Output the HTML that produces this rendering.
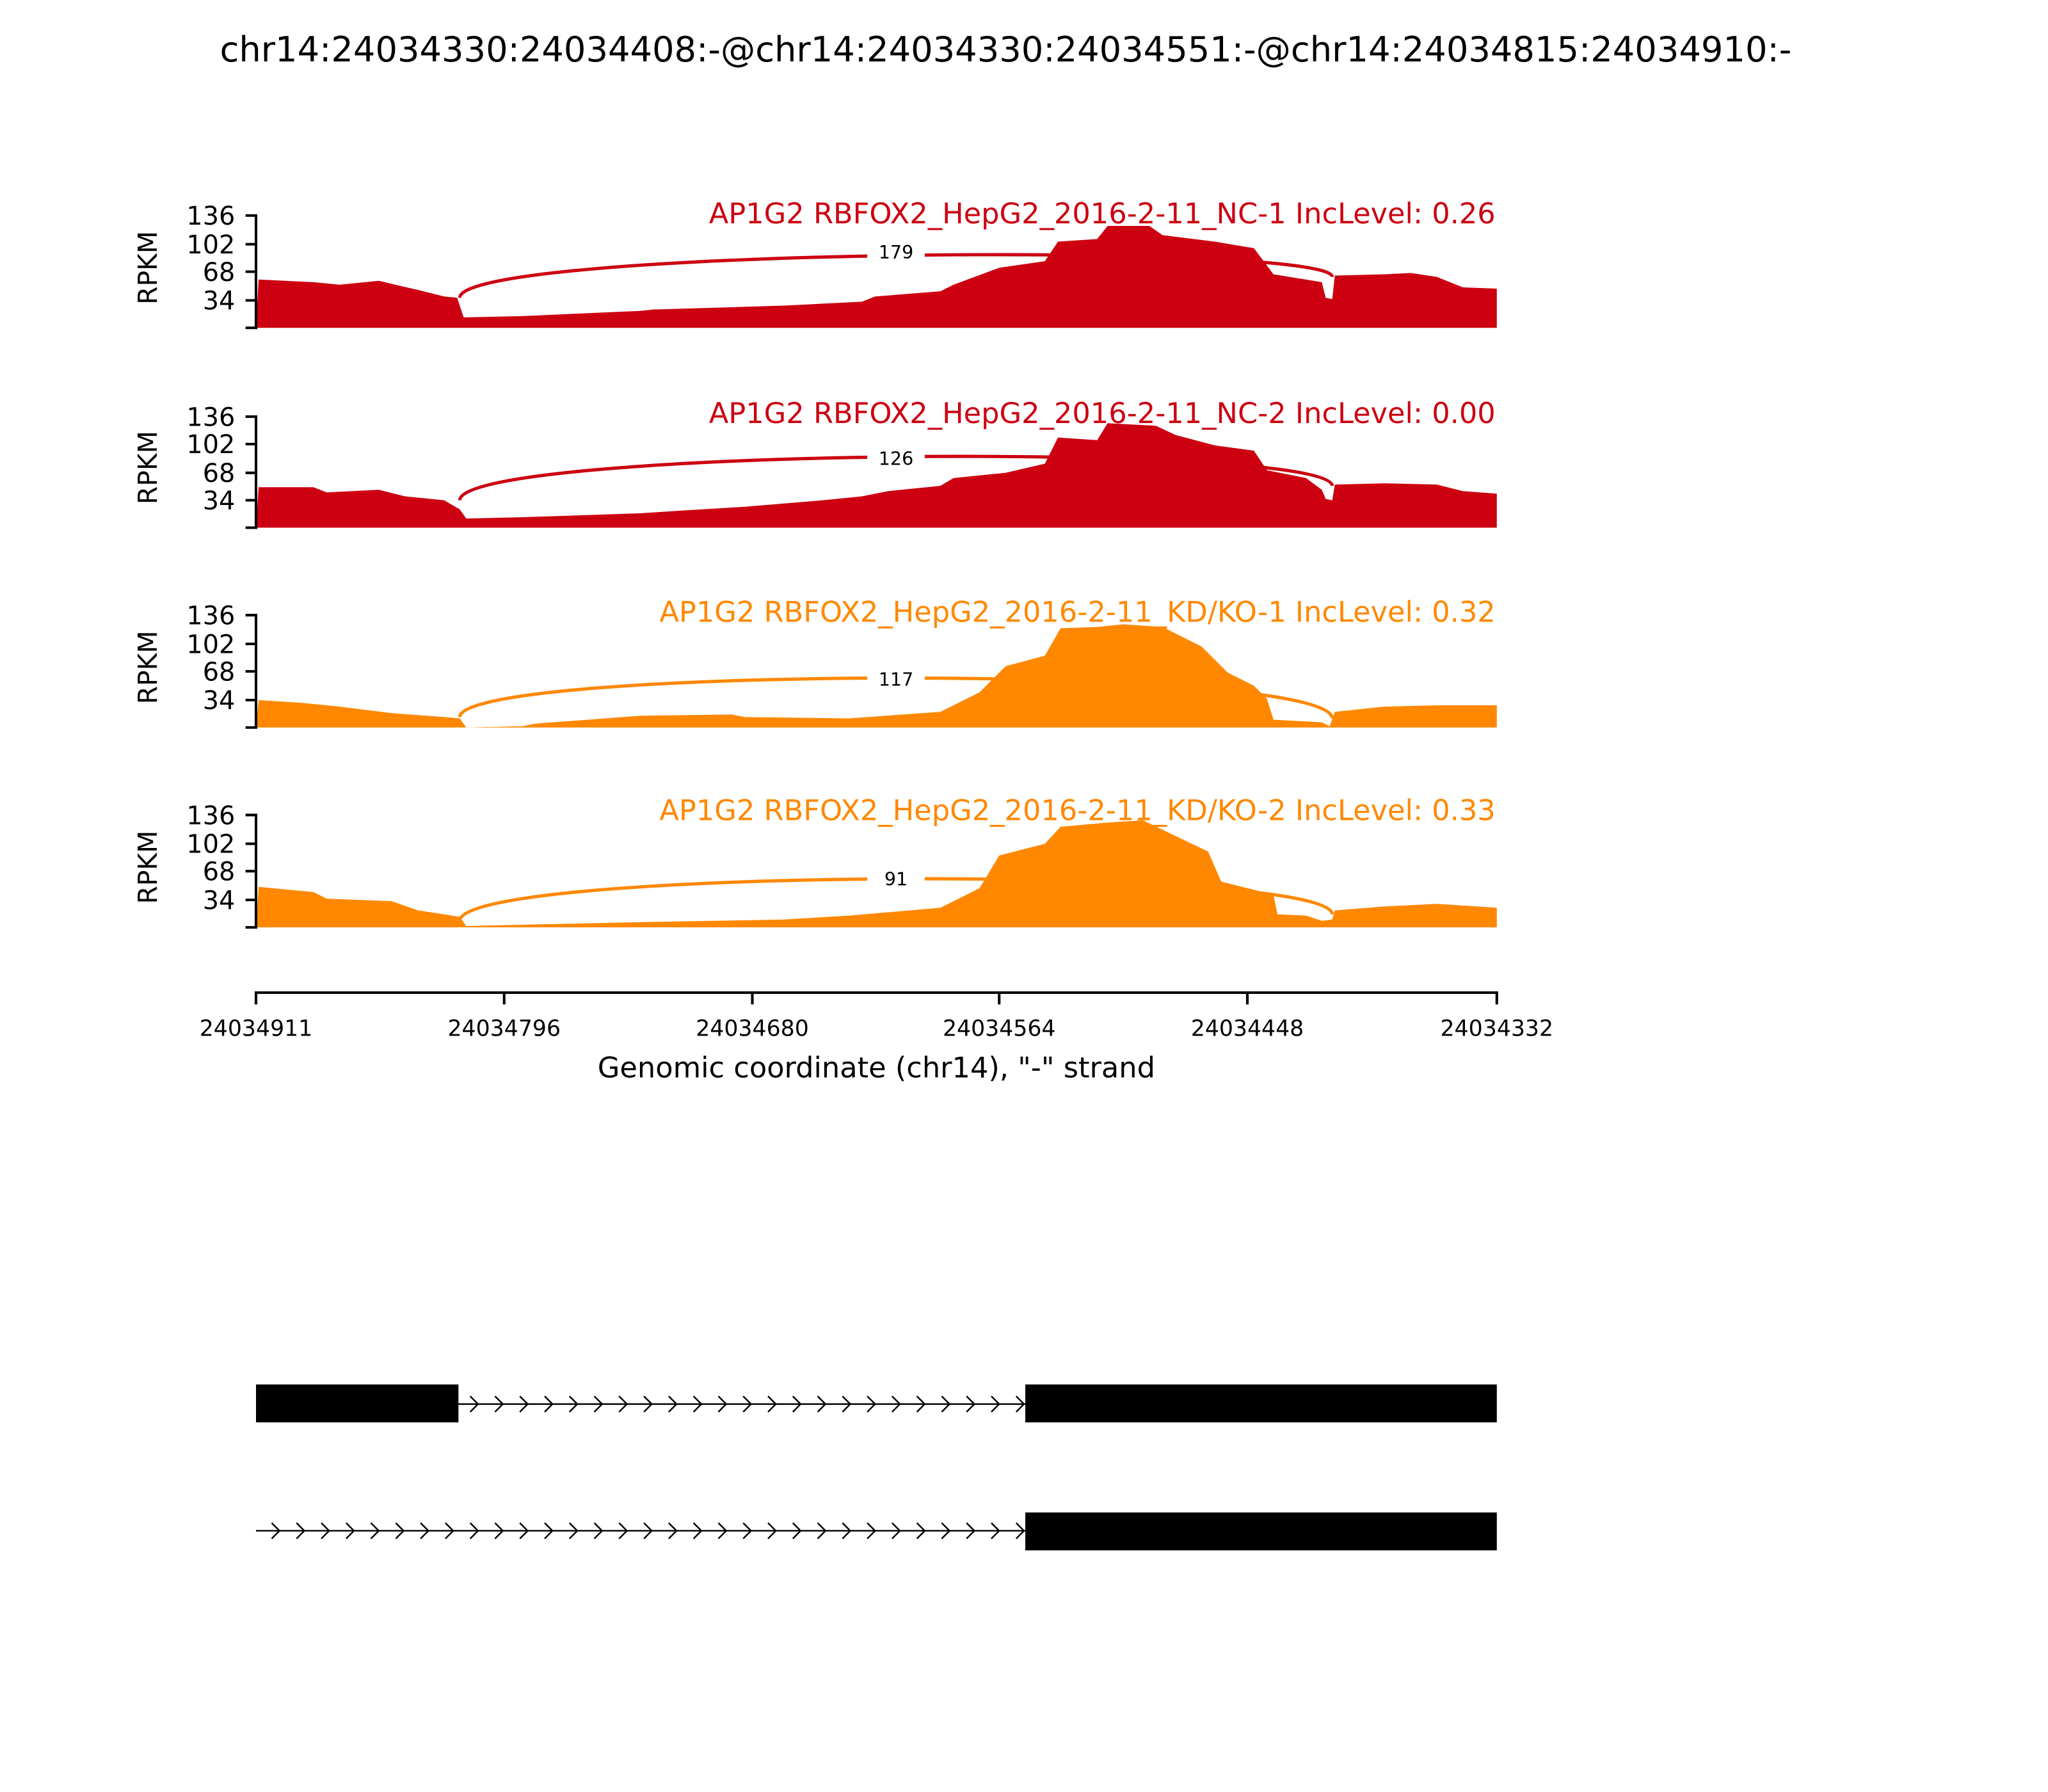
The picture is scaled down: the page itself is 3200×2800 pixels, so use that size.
<!DOCTYPE html>
<html><head><meta charset="utf-8"><style>html,body{margin:0;padding:0;background:#fff}svg{display:block}</style></head>
<body>
<svg xmlns="http://www.w3.org/2000/svg" width="3200" height="2800" viewBox="0 0 1568 1372" font-family="'DejaVu Sans','Liberation Sans',sans-serif">
<rect width="1568" height="1372" fill="#fff"/>
<text x="770" y="47" font-size="26.6" text-anchor="middle">chr14:24034330:24034408:-@chr14:24034330:24034551:-@chr14:24034815:24034910:-</text>

<g>
<polygon fill="#CC0011" points="196,251 198,214 240,216 260,218 290,215 320,222 340,227 350,228 355,243 400,242 490,238 500,237 600,234 660,231 670,227 720,223 730,218 765,205 800,200 810,185 840,183 848,173 880,173 890,180 930,185 960,190 975,210 1012,216 1015,228 1020,229 1022,211 1060,210 1080,209 1100,212 1120,220 1146,221 1146,251"/>
<path d="M352,228 C352,190 1020,185 1020,212" fill="none" stroke="#CC0011" stroke-width="2.5"/>
<rect x="664" y="184" width="44" height="18" fill="#fff"/>
<text x="686" y="198" font-size="14" text-anchor="middle">179</text>
<text x="1145" y="171" font-size="21.9" fill="#CC0011" text-anchor="end">AP1G2 RBFOX2_HepG2_2016-2-11_NC-1 IncLevel: 0.26</text>
</g>
<g>
<polygon fill="#CC0011" points="196,404 198,373 240,373 250,377 290,375 310,380 340,383 352,390 357,397 400,396 490,393 520,391 570,388 630,383 660,380 680,376 720,372 730,366 770,362 800,355 810,335 840,337 848,324 885,326 900,333 930,341 960,345 970,360 1000,366 1012,375 1015,382 1020,383 1022,371 1060,370 1100,371 1120,376 1146,378 1146,404"/>
<path d="M352,383 C352,343 1020,338 1020,372" fill="none" stroke="#CC0011" stroke-width="2.5"/>
<rect x="664" y="342" width="44" height="18" fill="#fff"/>
<text x="686" y="356" font-size="14" text-anchor="middle">126</text>
<text x="1145" y="324" font-size="21.9" fill="#CC0011" text-anchor="end">AP1G2 RBFOX2_HepG2_2016-2-11_NC-2 IncLevel: 0.00</text>
</g>
<g>
<polygon fill="#FF8800" points="196,557 198,536 230,538 260,541 300,546 340,549 352,550 357,557 400,556 410,554 490,548 560,547 570,549 650,550 720,545 750,530 770,510 800,502 812,481 840,480 860,478 890,480 920,495 940,515 960,525 970,535 975,551 1012,553 1018,556 1022,545 1060,541 1100,540 1146,540 1146,557"/>
<path d="M352,549 C352,510 1020,508 1020,550" fill="none" stroke="#FF8800" stroke-width="2.5"/>
<rect x="664" y="511" width="44" height="18" fill="#fff"/>
<text x="686" y="525" font-size="14" text-anchor="middle">117</text>
<text x="1145" y="476" font-size="21.9" fill="#FF8800" text-anchor="end">AP1G2 RBFOX2_HepG2_2016-2-11_KD/KO-1 IncLevel: 0.32</text>
</g>
<g>
<polygon fill="#FF8800" points="196,710 198,679 240,683 250,688 300,690 320,697 340,700 352,702 357,709 490,706 600,704 650,701 720,695 750,680 765,655 800,646 812,633 845,630 875,628 900,640 925,652 935,675 975,685 978,700 1000,701 1012,705 1020,704 1022,697 1060,694 1100,692 1146,695 1146,710"/>
<path d="M352,705 C352,664 1020,662 1020,700" fill="none" stroke="#FF8800" stroke-width="2.5"/>
<rect x="664" y="664" width="44" height="18" fill="#fff"/>
<text x="686" y="678" font-size="14" text-anchor="middle">91</text>
<text x="1145" y="628" font-size="21.9" fill="#FF8800" text-anchor="end">AP1G2 RBFOX2_HepG2_2016-2-11_KD/KO-2 IncLevel: 0.33</text>
</g>

<g stroke="#000" stroke-width="2" fill="none">
<path d="M188,165 H196 V251 H188 M188,187 H196 M188,208 H196 M188,230 H196"/>
<path d="M188,319 H196 V404 H188 M188,340 H196 M188,362 H196 M188,383 H196"/>
<path d="M188,471 H196 V557 H188 M188,493 H196 M188,514 H196 M188,536 H196"/>
<path d="M188,624 H196 V710 H188 M188,646 H196 M188,667 H196 M188,689 H196"/>
</g>
<g font-size="19.5" text-anchor="end">
<text x="180" y="172">136</text><text x="180" y="194">102</text><text x="180" y="215">68</text><text x="180" y="237">34</text>
<text x="180" y="326">136</text><text x="180" y="347">102</text><text x="180" y="369">68</text><text x="180" y="390">34</text>
<text x="180" y="478">136</text><text x="180" y="500">102</text><text x="180" y="521">68</text><text x="180" y="543">34</text>
<text x="180" y="631">136</text><text x="180" y="653">102</text><text x="180" y="674">68</text><text x="180" y="696">34</text>
</g>
<g font-size="20" text-anchor="middle">
<text transform="translate(120,205) rotate(-90)">RPKM</text>
<text transform="translate(120,358) rotate(-90)">RPKM</text>
<text transform="translate(120,511) rotate(-90)">RPKM</text>
<text transform="translate(120,664) rotate(-90)">RPKM</text>
</g>

<path d="M196,769 V760 H1146 V769 M386,760 V769 M576,760 V769 M765,760 V769 M955,760 V769" stroke="#000" stroke-width="2" fill="none"/>
<g font-size="17" text-anchor="middle">
<text x="196" y="793">24034911</text><text x="386" y="793">24034796</text><text x="576" y="793">24034680</text>
<text x="765" y="793">24034564</text><text x="955" y="793">24034448</text><text x="1146" y="793">24034332</text>
</g>
<text x="671" y="825" font-size="21.9" text-anchor="middle">Genomic coordinate (chr14), "-" strand</text>

<rect x="196" y="1060" width="155" height="29" fill="#000"/>
<line x1="351" y1="1075" x2="785" y2="1075" stroke="#000" stroke-width="1.2"/>
<rect x="785" y="1060" width="361" height="29" fill="#000"/>
<path d="M360,1069 l6,6 l-6,6 M379,1069 l6,6 l-6,6 M398,1069 l6,6 l-6,6 M417,1069 l6,6 l-6,6 M436,1069 l6,6 l-6,6 M455,1069 l6,6 l-6,6 M474,1069 l6,6 l-6,6 M493,1069 l6,6 l-6,6 M512,1069 l6,6 l-6,6 M531,1069 l6,6 l-6,6 M550,1069 l6,6 l-6,6 M569,1069 l6,6 l-6,6 M588,1069 l6,6 l-6,6 M607,1069 l6,6 l-6,6 M626,1069 l6,6 l-6,6 M645,1069 l6,6 l-6,6 M664,1069 l6,6 l-6,6 M683,1069 l6,6 l-6,6 M702,1069 l6,6 l-6,6 M721,1069 l6,6 l-6,6 M740,1069 l6,6 l-6,6 M759,1069 l6,6 l-6,6 M778,1069 l6,6 l-6,6" stroke="#000" stroke-width="1.2" fill="none"/>
<line x1="196" y1="1172" x2="785" y2="1172" stroke="#000" stroke-width="1.2"/>
<rect x="785" y="1158" width="361" height="29" fill="#000"/>
<path d="M208,1166 l6,6 l-6,6 M227,1166 l6,6 l-6,6 M246,1166 l6,6 l-6,6 M265,1166 l6,6 l-6,6 M284,1166 l6,6 l-6,6 M303,1166 l6,6 l-6,6 M322,1166 l6,6 l-6,6 M341,1166 l6,6 l-6,6 M360,1166 l6,6 l-6,6 M379,1166 l6,6 l-6,6 M398,1166 l6,6 l-6,6 M417,1166 l6,6 l-6,6 M436,1166 l6,6 l-6,6 M455,1166 l6,6 l-6,6 M474,1166 l6,6 l-6,6 M493,1166 l6,6 l-6,6 M512,1166 l6,6 l-6,6 M531,1166 l6,6 l-6,6 M550,1166 l6,6 l-6,6 M569,1166 l6,6 l-6,6 M588,1166 l6,6 l-6,6 M607,1166 l6,6 l-6,6 M626,1166 l6,6 l-6,6 M645,1166 l6,6 l-6,6 M664,1166 l6,6 l-6,6 M683,1166 l6,6 l-6,6 M702,1166 l6,6 l-6,6 M721,1166 l6,6 l-6,6 M740,1166 l6,6 l-6,6 M759,1166 l6,6 l-6,6 M778,1166 l6,6 l-6,6" stroke="#000" stroke-width="1.2" fill="none"/>
</svg>
</body></html>
